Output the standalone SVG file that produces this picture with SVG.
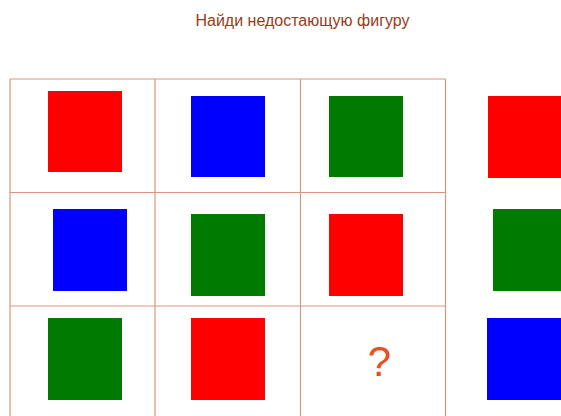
<svg xmlns="http://www.w3.org/2000/svg" width="561" height="416" viewBox="0 0 561 416">
<style>
.grid line{stroke:#d9967f;stroke-width:1.2}
.r{fill:#ff0000}.b{fill:#0000ff}.g{fill:#007a00}
.title{font-family:"Liberation Sans",Arial,sans-serif;font-size:16px;fill:#9a3b16}
.q{font-family:"Liberation Sans",Arial,sans-serif;font-size:42px;fill:#e8501c}
</style>
<rect width="561" height="416" fill="#ffffff"/>
<text class="title" x="302.5" y="26" text-anchor="middle">Найди недостающую фигуру</text>
<g id="grid" class="grid">
<line x1="10" y1="79" x2="445.5" y2="79"/>
<line x1="10" y1="192.5" x2="445.5" y2="192.5"/>
<line x1="10" y1="306" x2="445.5" y2="306"/>
<line x1="10" y1="79" x2="10" y2="416"/>
<line x1="155" y1="79" x2="155" y2="416"/>
<line x1="300.5" y1="79" x2="300.5" y2="416"/>
<line x1="445.5" y1="79" x2="445.5" y2="416"/>
</g>
<g id="cell11"><rect class="r" x="48" y="91" width="74" height="81"/></g>
<g id="cell12"><rect class="b" x="191" y="96" width="74" height="81"/></g>
<g id="cell13"><rect class="g" x="329" y="96" width="74" height="81"/></g>
<g id="cell21"><rect class="b" x="53" y="209" width="74" height="82"/></g>
<g id="cell22"><rect class="g" x="191" y="214" width="74" height="82"/></g>
<g id="cell23"><rect class="r" x="329" y="214" width="74" height="82"/></g>
<g id="cell31"><rect class="g" x="48" y="318" width="74" height="82"/></g>
<g id="cell32"><rect class="r" x="191" y="318" width="74" height="82"/></g>
<g id="cell33"><text class="q" x="379.5" y="376" text-anchor="middle">?</text></g>
<g id="option1"><rect class="r" x="488" y="96" width="80" height="82"/></g>
<g id="option2"><rect class="g" x="493" y="209" width="80" height="82"/></g>
<g id="option3"><rect class="b" x="487" y="318" width="80" height="82"/></g>
</svg>
